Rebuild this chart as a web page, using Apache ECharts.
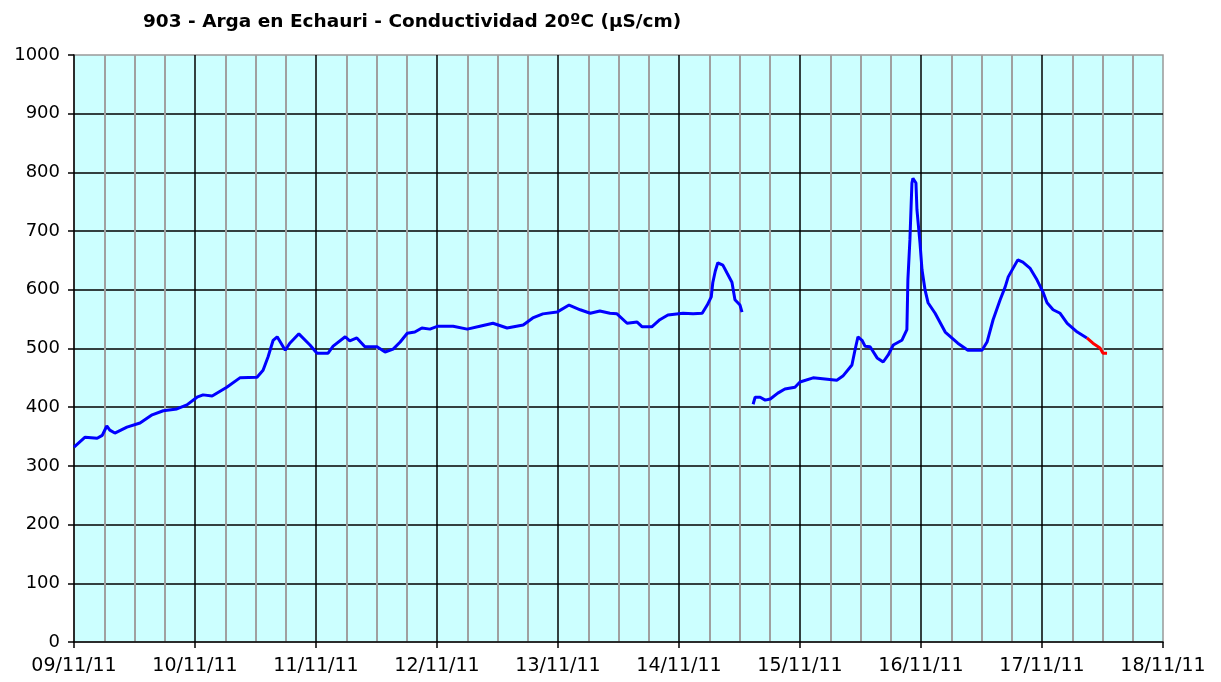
<!DOCTYPE html>
<html>
<head>
<meta charset="utf-8">
<script src="https://cdn.jsdelivr.net/npm/echarts@6/dist/echarts.min.js"></script>
<style>
  html, body { margin: 0; padding: 0; background: #fff; }
  #chart { width: 1221px; height: 682px; }
</style>
</head>
<body>
<div id="chart"></div>
<script>
// hours since 09/11/11 00:00, conductivity values
const blueHours = [0, 2.2, 4.6, 5.6, 6.5, 7.1, 8.1, 10.5, 13.1, 15.5, 17.7, 20.4, 22.4, 24.4, 25.6, 27.4,
  30.3, 32.9, 36.3, 37.5, 38.5, 39.5, 40.3, 41.9, 42.8, 44.6, 46.8, 48.2, 50.4, 51.4, 53.8, 54.7,
  56.1, 57.7, 60.1, 61.7, 63.3, 64.7, 66.1, 67.6, 69.0, 70.6, 72.2, 75.2, 78.0, 80.5, 83.1, 85.9,
  89.1, 91.0, 93.0, 95.8, 98.2, 100.4, 102.4, 104.3, 106.3, 107.7, 109.7, 111.7, 112.7, 114.6, 116.2,
  117.8, 120.8, 122.8, 124.6, 125.6, 126.4, 126.7, 127.2, 127.7, 128.7, 129.5, 130.5, 131.1, 132.1, 132.5,
  133.6,
  134.7, 135.1, 136.1, 137.1, 138.1, 139.6, 141.0, 143.0, 144.0, 146.6, 151.3, 152.5, 154.3, 154.9,
  155.5, 156.3, 156.9, 157.9, 159.3, 160.5, 161.5, 162.5, 164.2, 165.2, 165.4, 165.8, 166.2, 166.4,
  167.0, 167.2, 167.8, 168.2, 168.8, 169.4, 170.8, 172.8, 175.3, 177.3, 180.1, 181.1, 182.3, 183.7,
  184.7, 185.3, 187.2, 188.2, 189.6, 191.0, 192.2, 193.0, 194.2, 195.6, 197.0, 199.0, 200.9];
const blueValues = [332, 349, 347, 352, 368, 361, 356, 366, 373, 387, 394, 397, 404, 417, 421, 419,
  434, 450, 451, 463, 486, 514, 520, 497, 509, 525, 506, 492, 492, 504, 520, 513,
  518, 503, 503, 494, 499, 511, 526, 528, 535, 533, 538, 538, 533, 538, 543, 535,
  540, 552, 559, 562, 574, 566, 560, 564, 560, 559, 543, 545, 537, 537, 549,
  557, 560, 559, 560, 574, 588, 612, 632, 646, 642, 629, 613, 583, 574, 562,
  null,
  405, 417, 417, 412, 414, 424, 431, 434, 443, 450, 446, 453, 472, 497,
  520, 514, 504, 503, 484, 477, 489, 506, 514, 532, 617, 685, 782, 790,
  782, 736, 680, 634, 600, 578, 560, 528, 509, 497, 497, 511, 549, 583,
  605, 622, 651, 647, 637, 617, 596, 578, 566, 560, 543, 528, 518];
const redHours = [200.9, 202.1, 203.5, 204.1, 204.9];
const redValues = [518, 509, 501, 492, 492];

const dayLabels = ['09/11/11', '10/11/11', '11/11/11', '12/11/11', '13/11/11',
  '14/11/11', '15/11/11', '16/11/11', '17/11/11', '18/11/11'];

const chart = echarts.init(document.getElementById('chart'));

const option = {
  animation: false,
  backgroundColor: '#ffffff',
  title: {
    text: '903 - Arga en Echauri - Conductividad 20ºC (µS/cm)',
    left: 138,
    top: 8,
    textStyle: { fontFamily: 'DejaVu Sans', fontSize: 18.5, fontWeight: 'bold', color: '#000' }
  },
  grid: {
    left: 74, right: 58, top: 55, bottom: 40,
    show: true,
    backgroundColor: '#ccffff',
    borderColor: '#999999',
    borderWidth: 1.5
  },
  xAxis: {
    type: 'value',
    min: 0,
    max: 216,
    interval: 24,
    axisLine: { lineStyle: { color: '#000', width: 1.5 } },
    axisTick: { show: true, length: 6, lineStyle: { color: '#000', width: 1.5 } },
    axisLabel: {
      margin: 15,
      fontFamily: 'DejaVu Sans',
      fontSize: 19,
      color: '#000',
      formatter: v => dayLabels[Math.round(v / 24)]
    },
    splitLine: { show: true, showMinLine: false, showMaxLine: false, lineStyle: { color: '#000', width: 1.5 } },
    minorTick: { show: false, splitNumber: 4 },
    minorSplitLine: { show: true, lineStyle: { color: '#a0a0a0', width: 2 } }
  },
  yAxis: {
    type: 'value',
    min: 0,
    max: 1000,
    interval: 100,
    axisLine: { show: true, lineStyle: { color: '#000', width: 1.5 } },
    axisTick: { show: true, length: 6, lineStyle: { color: '#000', width: 1.5 } },
    axisLabel: { margin: 14, fontFamily: 'DejaVu Sans', fontSize: 18, color: '#000', formatter: v => String(v) },
    splitLine: { show: true, showMinLine: false, showMaxLine: false, lineStyle: { color: '#000', width: 1.5 } }
  },
  series: [
    {
      name: 'Conductividad',
      type: 'line',
      data: blueHours.map((h, i) => [h, blueValues[i]]),
      showSymbol: false,
      connectNulls: false,
      lineStyle: { color: '#0000ff', width: 3 },
      z: 3
    },
    {
      name: 'Provisional',
      type: 'line',
      data: redHours.map((h, i) => [h, redValues[i]]),
      showSymbol: false,
      lineStyle: { color: '#ff0000', width: 3 },
      z: 4
    }
  ]
};

chart.setOption(option);
</script>
</body>
</html>
